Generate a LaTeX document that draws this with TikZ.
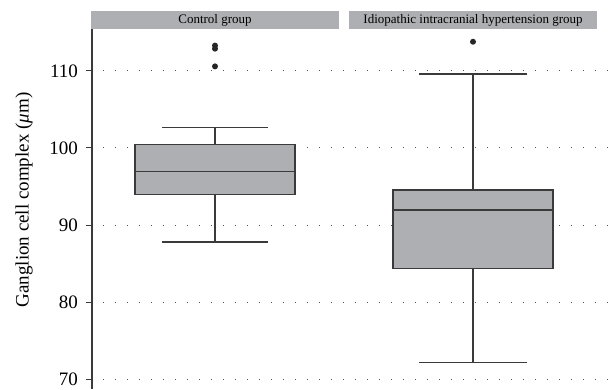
\documentclass[tikz,border=0pt]{standalone}
\usepackage{fontspec}
\setmainfont{Liberation Serif}
\definecolor{boxgray}{HTML}{AEAFB2}
\definecolor{linegray}{HTML}{3A3A3A}

\begin{document}
\begin{tikzpicture}[x=1pt, y=1pt]
    \useasboundingbox (0,0) rectangle (614,389);

    % Draw strips
    \fill[boxgray] (91,360) rectangle (339,378);
    \node[font=\fontsize{13}{14}\selectfont] (ctrl) at (215,369) {Control group};
    \fill[boxgray] (349,360) rectangle (597,378);
    \node[font=\fontsize{13}{14}\selectfont] (iih) at (473,369) {Idiopathic intracranial hypertension group};

    % Draw axes
    \draw[linegray, line width=1.2pt] (92,0) -- (92,360);
    \node[rotate=90, font=\fontsize{19}{21}\selectfont] (ylab) at (24,189) {Ganglion cell complex (\textit{μ}m)};

    \begin{scope}[y=7.7pt, yshift=-529pt]
    \foreach \v in {70,80,...,110} {
        \draw[black!70, line width=1pt, dash pattern=on 1.2pt off 10.8pt] (103,\v) -- (614,\v);
        \draw[linegray, line width=1pt] (86,\v) -- (92,\v);
        \node[left, inner sep=0pt, font=\fontsize{19}{21}\selectfont] (t\v) at (78,\v) {\v};
    }

    % Control group
    \coordinate (cq1) at (135,94.0);
    \coordinate (cq3) at (295,100.5);
    \draw[linegray, line width=1.2pt] (215,87.8) -- (215,102.7);
    \draw[linegray, line width=1.2pt] (162,87.8) -- (268,87.8);
    \draw[linegray, line width=1.2pt] (162,102.7) -- (268,102.7);
    \draw[linegray, line width=1.2pt, fill=boxgray] (cq1) rectangle (cq3);
    \draw[linegray, line width=1.2pt] (135,96.9) -- (295,96.9);
    \fill[black!85] (215,113.3) circle (3pt);
    \fill[black!85] (215,112.9) circle (3pt);
    \fill[black!85] (215,110.6) circle (3pt);

    % IIH group
    \coordinate (iq1) at (393,84.4);
    \coordinate (iq3) at (553,94.55);
    \draw[linegray, line width=1.2pt] (473,72.1) -- (473,109.6);
    \draw[linegray, line width=1.2pt] (419,72.1) -- (527,72.1);
    \draw[linegray, line width=1.2pt] (419,109.6) -- (527,109.6);
    \draw[linegray, line width=1.2pt, fill=boxgray] (iq1) rectangle (iq3);
    \draw[linegray, line width=1.2pt] (393,91.95) -- (553,91.95);
    \fill[black!85] (473,113.8) circle (3pt);
    \end{scope}

\end{tikzpicture}
\end{document}
